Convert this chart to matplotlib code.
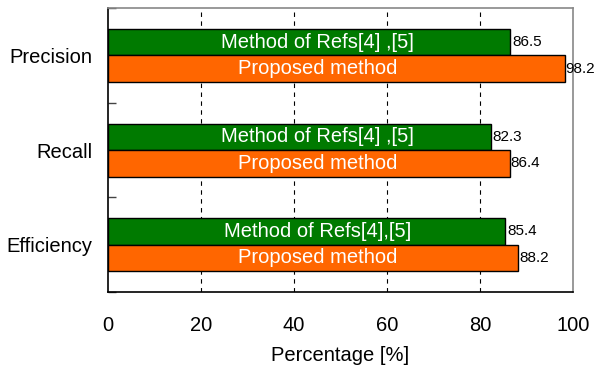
import numpy as np
import matplotlib
matplotlib.use("Agg")
import matplotlib.pyplot as plt

plt.rcParams["font.family"] = ["Liberation Sans", "DejaVu Sans"]

categories = ["Precision", "Recall", "Efficiency"]
refs_values = [86.5, 82.3, 85.4]
proposed_values = [98.2, 86.4, 88.2]
refs_labels = ["Method of Refs[4] ,[5]", "Method of Refs[4] ,[5]", "Method of Refs[4],[5]"]
proposed_label = "Proposed method"

fig = plt.figure(figsize=(5.95, 3.68), dpi=100)
ax = fig.add_axes([0.1815, 0.2065, 0.7815, 0.7715])

y = np.arange(len(categories))
h = 0.28
green = "#007a00"
orange = "#ff6600"

ax.barh(y - h / 2, refs_values, height=h, color=green, edgecolor="black", linewidth=1, zorder=3)
ax.barh(y + h / 2, proposed_values, height=h, color=orange, edgecolor="black", linewidth=1, zorder=3)

for i in range(len(categories)):
    ax.text(45, y[i] - h / 2, refs_labels[i], color="white", fontsize=14.5,
            ha="center", va="center", zorder=4)
    ax.text(45, y[i] + h / 2, proposed_label, color="white", fontsize=14.5,
            ha="center", va="center", zorder=4)
    ax.text(refs_values[i] + 0.4, y[i] - h / 2, f"{refs_values[i]}", fontsize=11,
            ha="left", va="center", zorder=4)
    ax.text(proposed_values[i] + 0.2, y[i] + h / 2, f"{proposed_values[i]}", fontsize=11,
            ha="left", va="center", zorder=4)

ax.set_xlim(0, 100)
ax.set_ylim(2.5, -0.5)
ax.set_xticks([0, 20, 40, 60, 80, 100])
ax.set_yticks(y)
ax.set_yticklabels(categories)
ax.set_yticks([-0.5, 0.5, 1.5, 2.5], minor=True)

ax.tick_params(axis="x", direction="in", length=0, pad=17, labelsize=14.5)
ax.tick_params(axis="y", which="major", length=0, pad=11, labelsize=14.5)
ax.tick_params(axis="y", which="minor", direction="in", length=6, width=1, color="#444444")

for xv in [20, 40, 60, 80]:
    ax.axvline(xv, color="black", linestyle=(0, (4, 4)), linewidth=0.8, zorder=1)

ax.spines["left"].set_color("black")
ax.spines["bottom"].set_color("black")
ax.spines["top"].set_color("#888888")
ax.spines["right"].set_color("#888888")
for s in ax.spines.values():
    s.set_linewidth(1.2)

ax.set_xlabel("Percentage [%]", fontsize=14.5, labelpad=8)

fig.savefig("out.png", dpi=100)
